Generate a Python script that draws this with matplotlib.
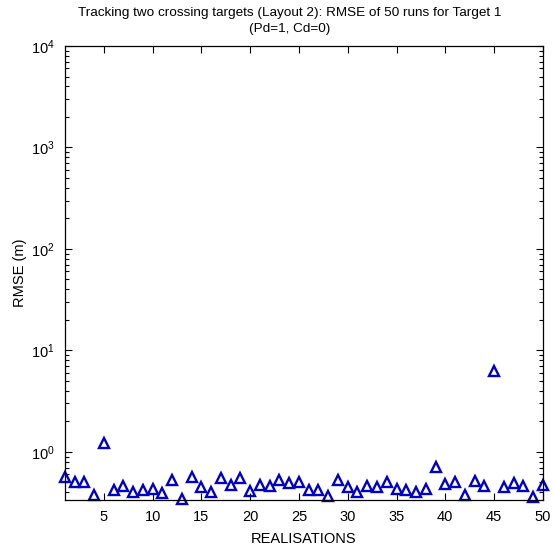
#RMSE per realisation for target 1, log scale y axis

import numpy as np
import matplotlib
matplotlib.use('Agg')
import matplotlib.pyplot as plt
from matplotlib.ticker import FixedLocator, LogLocator

#realisation numbers and the RMSE read for each one
realisations = list(range(1, 51))
rmse = [0.56, 0.50, 0.51, 0.377, 1.22, 0.42, 0.46, 0.406, 0.42, 0.432,
        0.39, 0.524, 0.342, 0.57, 0.455, 0.406, 0.55, 0.47, 0.55, 0.416,
        0.47, 0.46, 0.53, 0.49, 0.51, 0.42, 0.42, 0.37, 0.53, 0.45,
        0.406, 0.46, 0.45, 0.51, 0.43, 0.42, 0.406, 0.43, 0.707, 0.48,
        0.50, 0.377, 0.52, 0.46, 6.3, 0.45, 0.49, 0.465, 0.363, 0.47]
x_ticks = [5, 10, 15, 20, 25, 30, 35, 40, 45, 50]

plt.rcParams['font.family'] = ['Liberation Sans', 'DejaVu Sans']
plt.rcParams['mathtext.default'] = 'regular'

fig = plt.figure(figsize=(5.55, 5.54), dpi=100)
ax = fig.add_axes([0.117, 0.0975, 0.861, 0.8195])

ax.semilogy(realisations, rmse, linestyle='none', marker='^', markersize=7,
            markerfacecolor='none', markeredgecolor='#0000c8', markeredgewidth=1.7,
            clip_on=False)

ax.set_xlim(1, 50)
ax.set_ylim(0.336, 1e4)
ax.xaxis.set_major_locator(FixedLocator(x_ticks))
ax.yaxis.set_major_locator(LogLocator(base=10, numticks=10))
ax.yaxis.set_minor_locator(LogLocator(base=10, subs=np.arange(2, 10), numticks=20))

ax.tick_params(which='both', direction='in', top=True, right=True, labelsize=10.5, colors='black')
ax.tick_params(which='major', length=5, width=0.8)
ax.tick_params(which='minor', length=3, width=0.8)
ax.tick_params(axis='x', which='minor', top=False, bottom=False)
ax.tick_params(axis='x', which='major', pad=7)
ax.tick_params(axis='y', which='major', pad=7.5)
for side in ax.spines.values():
    side.set_linewidth(0.9)

ax.set_xlabel('REALISATIONS', fontsize=10.5, labelpad=6)
ax.set_ylabel('RMSE (m)', fontsize=10.5, labelpad=3)
ax.set_title('Tracking two crossing targets (Layout 2): RMSE of 50 runs for Target 1\n(Pd=1, Cd=0)',
             fontsize=9.7, pad=10, linespacing=1.4, x=0.47)

fig.savefig('out.png', dpi=100)
